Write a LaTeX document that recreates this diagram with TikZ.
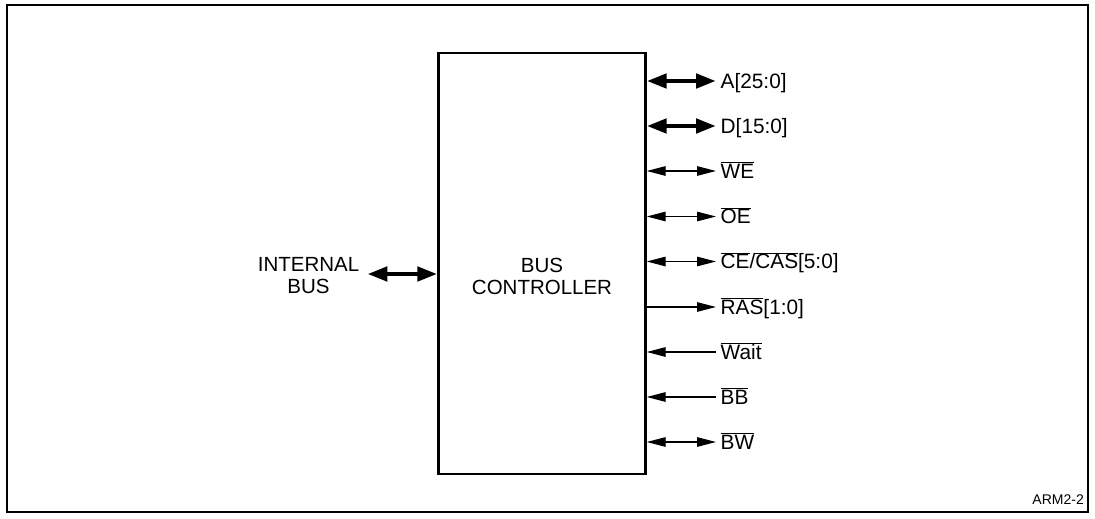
\documentclass[tikz,border=0pt]{standalone}
\usepackage{fontspec}
\setmainfont{Liberation Sans}
\usetikzlibrary{arrows.meta}
\newcommand{\ovl}[1]{\ensuremath{\overline{\mbox{#1}}}}
\begin{document}
\begin{tikzpicture}[x=1pt,y=-1pt,
  frame/.style={draw, line width=1.4pt},
  boxstyle/.style={draw, line width=2.4pt, minimum width=207pt, minimum height=421pt, inner sep=0pt},
  txt/.style={font=\fontsize{20.5}{22}\selectfont, align=center},
  sig/.style={font=\fontsize{20.8}{22}\selectfont, anchor=west, inner xsep=4.5pt, inner ysep=0pt, text height=14.8pt, text depth=0pt},
  thickarr/.style={line width=4.6pt, {Triangle[length=20pt,width=14pt]}-{Triangle[length=20pt,width=14pt]}},
  thinboth/.style={line width=1.3pt, {Triangle[length=19pt,width=9.5pt]}-{Triangle[length=19pt,width=9.5pt]}},
  thinout/.style={line width=1.3pt, -{Triangle[length=19pt,width=9.5pt]}},
  thinin/.style={line width=1.3pt, {Triangle[length=19pt,width=9.5pt]}-},
]
\useasboundingbox (0,0) rectangle (1095,519);
\draw[frame] (7,5) rectangle (1088,512);

\node[boxstyle] (bc) at (542,263.5) {};
\node[txt] (bctext) at (542,276) {BUS\\CONTROLLER};

\node[txt, inner xsep=8pt] (ib) at (308.5,275.5) {INTERNAL\\BUS};
\draw[thickarr] (ib.east |- 0,274) -- (bc.west |- 0,274);

\node[sig] (sA)  at (716,81)  {A[25:0]};
\node[sig] (sD)  at (716,126) {D[15:0]};
\node[sig] (sWE) at (716,171) {\ovl{WE}};
\node[sig] (sOE) at (716,216.5) {\ovl{OE}};
\node[sig] (sCE) at (716,261.5) {\ovl{CE}/\ovl{CAS}[5:0]};
\node[sig] (sRAS) at (716,307) {\ovl{RAS}[1:0]};
\node[sig] (sW)  at (716,352) {\ovl{Wait}};
\node[sig] (sBB) at (716,397) {\ovl{BB}};
\node[sig] (sBW) at (716,442) {\ovl{BW}};

\draw[thickarr] (bc.east |- sA.west) -- (sA.west);
\draw[thickarr] (bc.east |- sD.west) -- (sD.west);
\draw[thinboth] (bc.east |- sWE.west) -- (sWE.west);
\draw[thinboth] (bc.east |- sOE.west) -- (sOE.west);
\draw[thinboth] (bc.east |- sCE.west) -- (sCE.west);
\draw[thinout] (bc.east |- sRAS.west) -- (sRAS.west);
\draw[thinin] (bc.east |- sW.west) -- (sW.west);
\draw[thinin] (bc.east |- sBB.west) -- (sBB.west);
\draw[thinboth] (bc.east |- sBW.west) -- (sBW.west);

\node[font=\fontsize{14}{16}\selectfont, anchor=east, inner sep=0pt] (tag) at (1084,500) {ARM2-2};
\end{tikzpicture}
\end{document}
